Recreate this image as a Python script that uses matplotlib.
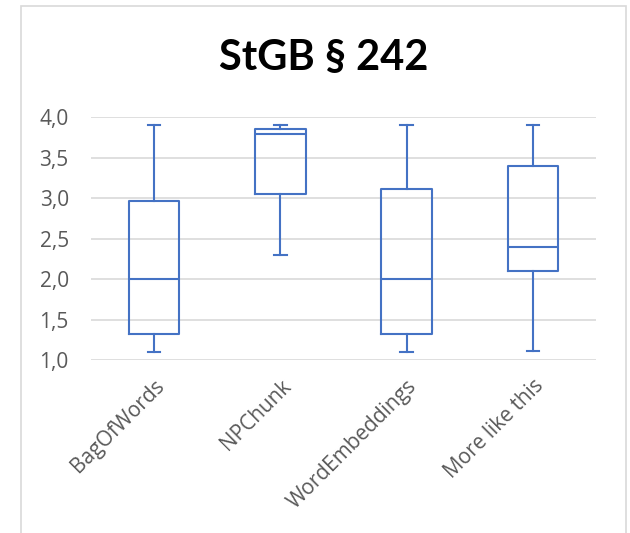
import matplotlib.pyplot as plt
from matplotlib.patches import Rectangle

# Werte
methods = ['BagOfWords', 'NPChunk', 'WordEmbeddings', 'More like this']
whislo = [1.10, 2.30, 1.10, 1.11]
q1 = [1.32, 3.05, 1.32, 2.10]
med = [2.00, 3.80, 2.00, 2.40]
q3 = [2.97, 3.85, 3.12, 3.40]
whishi = [3.90, 3.90, 3.90, 3.90]
yticks = [1.0, 1.5, 2.0, 2.5, 3.0, 3.5, 4.0]

blue = '#4472C4'
grey = '#595959'

fig = plt.figure(figsize=(6.3, 5.33), dpi=100)
fig.patches.append(Rectangle((21 / 630, -0.1), 605 / 630, 1.1 - 6 / 533,
                             transform=fig.transFigure, fill=False,
                             edgecolor='#D9D9D9', linewidth=1.2))
ax = fig.add_axes([91 / 630, 172.7 / 533, 505 / 630, 243 / 533])

stats = []
for i in range(len(methods)):
    stats.append({'label': methods[i], 'whislo': whislo[i], 'q1': q1[i],
                  'med': med[i], 'q3': q3[i], 'whishi': whishi[i], 'fliers': []})

lp = dict(color=blue, linewidth=1.5)
ax.bxp(stats, positions=range(len(methods)), widths=0.4, showfliers=False,
       boxprops=lp, whiskerprops=lp, capprops=lp, medianprops=lp,
       capwidths=0.1)

ax.set_xlim(-0.5, len(methods) - 0.5)
ax.set_ylim(1.0, 4.0)
ax.set_yticks(yticks)
ax.set_yticklabels([f'{v:.1f}'.replace('.', ',') for v in yticks],
                   fontsize=15, color=grey, family='Open Sans')
ax.set_xticks(range(len(methods)))
ax.set_xticklabels(methods, rotation=45, ha='right', rotation_mode='anchor',
                   fontsize=15, color=grey, family='Open Sans')
ax.tick_params(axis='y', length=0, pad=16)
ax.tick_params(axis='x', length=0, pad=11)
ax.grid(axis='y', color='#D9D9D9', linewidth=1.2)
ax.set_axisbelow(True)
for s in ax.spines.values():
    s.set_visible(False)

fig.text(324 / 630, 1 - 57 / 533, 'StGB § 242', ha='center', va='center',
         fontsize=30, fontweight='bold', family='Lato')

fig.savefig('out.png', dpi=100)
